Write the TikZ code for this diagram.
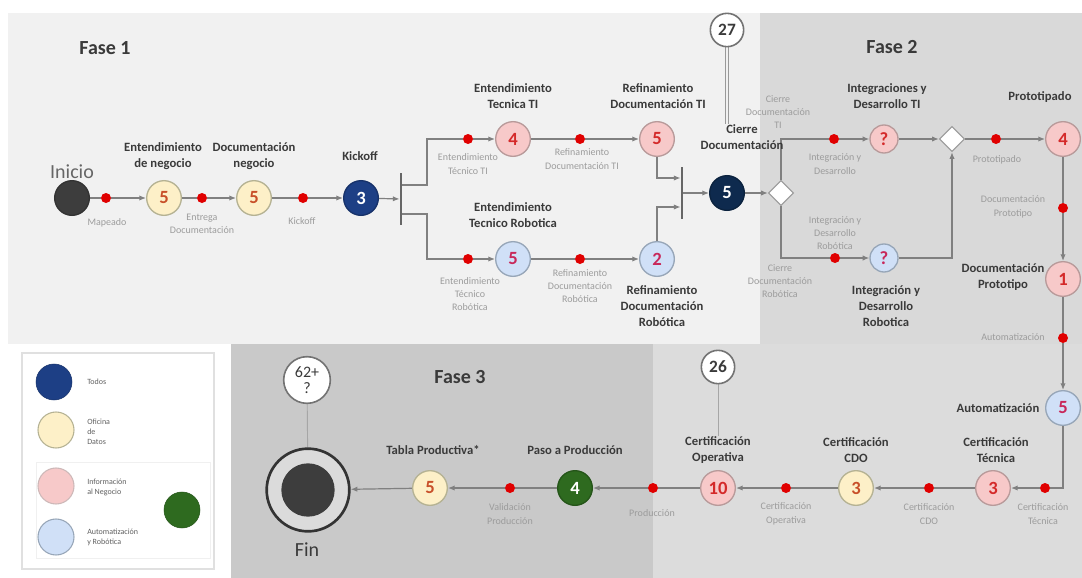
\documentclass[tikz,border=0pt]{standalone}
\usepackage{fontspec}
\setmainfont{Carlito}
\usetikzlibrary{arrows.meta,shapes.geometric,calc}
\definecolor{fOne}{HTML}{F1F1F1}
\definecolor{fTwo}{HTML}{D9D9D9}
\definecolor{fTwoB}{HTML}{DCDCDC}
\definecolor{fThree}{HTML}{C9C9C9}
\definecolor{lineg}{HTML}{808080}
\definecolor{dotred}{HTML}{E00000}
\definecolor{yelF}{HTML}{FDF0C8}
\definecolor{yelD}{HTML}{B5B293}
\definecolor{yelT}{HTML}{C8502A}
\definecolor{pnkF}{HTML}{F7C9C9}
\definecolor{pnkD}{HTML}{B89A9A}
\definecolor{pnkT}{HTML}{D42A2A}
\definecolor{bluF}{HTML}{D0E0F7}
\definecolor{bluD}{HTML}{97A6B8}
\definecolor{bluT}{HTML}{C8285A}
\definecolor{todosF}{HTML}{1D3F85}
\definecolor{navyF}{HTML}{0E2A4E}
\definecolor{grnF}{HTML}{2E6A1F}
\definecolor{lblT}{HTML}{3A3A3A}
\definecolor{subT}{HTML}{9C9C9C}
\pgfdeclarelayer{bg}
\pgfdeclarelayer{edges}
\pgfsetlayers{bg,edges,main}
\tikzset{
  stage/.style={circle, minimum size=26pt, inner sep=0pt, line width=1pt,
    font=\bfseries\fontsize{14}{14}\selectfont},
  smallstage/.style={stage, minimum size=21pt},
  yel/.style={draw=yelD, fill=yelF, text=yelT},
  pnk/.style={draw=pnkD, fill=pnkF, text=pnkT},
  blu/.style={draw=bluD, fill=bluF, text=bluT},
  todos/.style={draw=todosF!80!black, fill=todosF, text=white},
  navy/.style={draw=navyF!80!black, fill=navyF, text=white},
  grn/.style={draw=grnF!80!black, fill=grnF, text=white},
  dot/.style={circle, fill=dotred, minimum size=7.5pt, inner sep=0pt},
  lbl/.style={font=\bfseries\fontsize{9.5}{12}\selectfont, text=lblT, align=center, inner sep=0pt},
  sub/.style={font=\fontsize{7.5}{10}\selectfont, text=subT, align=center, inner sep=0pt},
  fase/.style={font=\bfseries\fontsize{15}{15}\selectfont, text=lblT},
  conn/.style={draw=lineg, line width=0.9pt},
  arr/.style={conn, -{Latex[length=5pt,width=4pt]}},
  barnode/.style={rectangle, fill=lineg!80!black, minimum width=1.8pt, minimum height=39pt, inner sep=0pt},
  gate/.style={diamond, draw=lineg!80, fill=white, line width=0.8pt, minimum width=19pt, minimum height=19pt, inner sep=0pt},
  total/.style={circle, draw=lineg!90!black, fill=white, line width=1.2pt, inner sep=0pt, text=lblT},
  legtxt/.style={font=\fontsize{6}{7.5}\selectfont, text=lblT!80, align=left, anchor=west, inner sep=0pt}
}
\begin{document}
\begin{tikzpicture}[x=0.75pt,y=-0.75pt]
\useasboundingbox (0,0) rectangle (1082,578);
\begin{pgfonlayer}{bg}
  \fill[white] (0,0) rectangle (1082,578);
  \fill[fOne] (8,13) rectangle (760,344);
  \fill[fTwo] (760,13) rectangle (1082,344);
  \fill[fTwoB] (653,344) rectangle (1082,578);
  \fill[fThree] (231,344) rectangle (653,578);
  \fill[white] (22,353) rectangle (214,569);
  \draw[black!12, line width=0.8pt] (22,353) rectangle (214,569);
  \draw[black!6, line width=0.6pt] (36,462) rectangle (210,558);
\end{pgfonlayer}

% phase titles
\node[fase] (f1) at (105,48) {Fase 1};
\node[fase] (f2) at (892,47) {Fase 2};
\node[fase] (f3) at (460,377) {Fase 3};

% ----- row 1
\node[stage, fill=black!76, draw=black!80] (ini) at (72,198) {};
\node[font=\fontsize{15}{15}\selectfont, text=black!60, inner sep=0pt] (tini) at (72,172) {Inicio};
\node[dot] (d1) at (106,198) {};
\node[sub] (s1) at (107,223) {Mapeado};
\node[stage, yel] (e1) at (164,198) {5};
\node[lbl] (l1) at (163,156) {Entendimiento\\de negocio};
\node[dot] (d2) at (202,198) {};
\node[sub] (s2) at (202,224) {Entrega\\Documentación};
\node[stage, yel] (e2) at (254,198) {5};
\node[lbl] (l2) at (254,156) {Documentación\\negocio};
\node[dot] (d3) at (303,198) {};
\node[sub] (s3) at (302,221) {Kickoff};
\node[stage, todos] (k3) at (361,198) {3};
\node[lbl] (l3) at (360,156) {Kickoff};
\node[barnode] (b1) at (401,199) {};

% upper TI branch
\coordinate (u1) at (427,139);
\node[dot] (d4) at (468,139) {};
\node[sub] (s4) at (468,164) {Entendimiento\\Técnico TI};
\node[stage, pnk] (t4) at (513,139) {4};
\node[lbl] (l4) at (513,96) {Entendimiento\\Tecnica TI};
\node[dot] (d5) at (580,139) {};
\node[sub] (s5) at (582,159) {Refinamiento\\Documentación TI};
\node[stage, pnk] (r5) at (657,139) {5};
\node[lbl] (l5) at (658,96) {Refinamiento\\Documentación TI};

% lower robotics branch
\coordinate (l1c) at (427,259);
\node[dot] (d4b) at (468,259) {};
\node[sub] (s4b) at (470,294) {Entendimiento\\Técnico\\Robótica};
\node[stage, blu] (t5) at (513,259) {5};
\node[lbl] (l4b) at (513,215) {Entendimiento\\Tecnico Robotica};
\node[dot] (d5b) at (580,259) {};
\node[sub] (s5b) at (580,286) {Refinamiento\\Documentación\\Robótica};
\node[stage, blu] (r2) at (657,259) {2};
\node[lbl] (l5b) at (662,306) {Refinamiento\\Documentación\\Robótica};

% join and closure
\node[barnode] (b2) at (682,193) {};
\node[stage, navy] (cz) at (727,193) {5};
\node[lbl] (lcz) at (742,137) {Cierre\\Documentación};
\node[total, minimum size=25pt, font=\bfseries\fontsize{13}{13}\selectfont] (n27) at (727,30) {27};
\coordinate (c27) at (727,124);
\node[gate] (dm1) at (781,193) {};

% Fase 2 upper
\node[sub] (s6a) at (778,112) {Cierre\\Documentación\\TI};
\node[dot] (d6) at (834,139) {};
\node[sub] (s6) at (835,164) {Integración y\\Desarrollo};
\node[smallstage, pnk] (q1) at (884,139) {?};
\node[lbl] (lq1) at (887,96) {Integraciones y\\Desarrollo TI};
\node[gate] (dm2) at (952,139) {};
\node[dot] (d7) at (996,139) {};
\node[sub] (s7) at (997,160) {Prototipado};
\node[stage, pnk] (p4) at (1063,139) {4};
\node[lbl] (lp4) at (1040,97) {Prototipado};

% Fase 2 lower
\node[sub] (s8a) at (780,281) {Cierre\\Documentación\\Robótica};
\node[dot] (d15) at (835,258) {};
\node[sub] (s15) at (835,233) {Integración y\\Desarrollo\\Robótica};
\node[smallstage, blu] (q2) at (884,258) {?};
\node[lbl] (lq2) at (886,306) {Integración y\\Desarrollo\\Robotica};

% right column
\node[dot] (d8) at (1063,208) {};
\node[sub] (s8) at (1013,207) {Documentación\\Prototipo};
\node[stage, pnk] (p1) at (1063,279) {1};
\node[lbl] (lp1) at (1003,277) {Documentación\\Prototipo};
\node[dot] (d9) at (1063,338) {};
\node[sub] (s9) at (1013,337) {Automatización};
\node[stage, blu] (a5) at (1063,408) {5};
\node[lbl] (la5) at (998,408) {Automatización};

% bottom row
\node[dot] (d10) at (1045,488) {};
\node[sub] (s10) at (1043,514) {Certificación\\Técnica};
\node[stage, pnk] (ct) at (993,488) {3};
\node[lbl] (lct) at (996,450) {Certificación\\Técnica};
\node[dot] (d11) at (929,488) {};
\node[sub] (s11) at (929,514) {Certificación\\CDO};
\node[stage, yel] (cc) at (856,488) {3};
\node[lbl] (lcc) at (856,450) {Certificación\\CDO};
\node[dot] (d12) at (786,488) {};
\node[sub] (s12) at (786,514) {Certificación\\Operativa};
\node[stage, pnk] (co) at (718,488) {10};
\node[lbl] (lco) at (718,450) {Certificación\\Operativa};
\node[total, minimum size=25pt, font=\bfseries\fontsize{13}{13}\selectfont] (n26) at (718,367) {26};
\node[dot] (d13) at (653,488) {};
\node[sub] (s13) at (652,513) {Producción};
\node[stage, grn] (pp) at (575,488) {4};
\node[lbl] (lpp) at (575,450) {Paso a Producción};
\node[dot] (d14) at (510,488) {};
\node[sub] (s14) at (510,514) {Validación\\Producción};
\node[stage, yel] (tp) at (430,488) {5};
\node[lbl] (ltp) at (433,450) {Tabla Productiva*};
\node[circle, draw=black!80, line width=2pt, fill=black!14, minimum size=62pt, inner sep=0pt] (fin) at (308,490) {};
\node[circle, fill=black!76, minimum size=40pt, inner sep=0pt] (finin) at (308,490) {};
\node[font=\fontsize{15}{15}\selectfont, text=lblT, inner sep=0pt] (tfin) at (307,550) {Fin};
\node[total, minimum size=35pt, align=center, font=\fontsize{12}{12}\selectfont] (n62) at (307,380) {62+\\?};

% legend
\node[circle, fill=todosF, draw=todosF!80!black, minimum size=27pt, inner sep=0pt] (g1) at (54,382) {};
\node[legtxt] (gt1) at (87,382) {Todos};
\node[circle, fill=yelF, draw=yelD, line width=0.8pt, minimum size=27pt, inner sep=0pt] (g2) at (56,430) {};
\node[legtxt] (gt2) at (87,432) {Oficina\\de\\Datos};
\node[circle, fill=pnkF, draw=pnkD!70, line width=0.8pt, minimum size=27pt, inner sep=0pt] (g3) at (56,486) {};
\node[legtxt] (gt3) at (87,487) {Información\\al Negocio};
\node[circle, fill=bluF, draw=bluD, line width=0.8pt, minimum size=27pt, inner sep=0pt] (g4) at (56,537) {};
\node[legtxt] (gt4) at (87,537) {Automatización\\y Robótica};
\node[circle, fill=grnF, draw=grnF!80!black, minimum size=27pt, inner sep=0pt] (g5) at (182,510) {};

% ----- connectors
\begin{pgfonlayer}{edges}
  \draw[conn] (ini) -- (d1);
  \draw[arr] (d1) -- (e1);
  \draw[conn] (e1) -- (d2);
  \draw[arr] (d2) -- (e2);
  \draw[conn] (e2) -- (d3);
  \draw[arr] (d3) -- (k3);
  \draw[arr] (k3) -- (b1);
  \draw[conn] ([yshift=10.5pt]b1.east) -| (u1) -- (d4);
  \draw[arr] (d4) -- (t4);
  \draw[conn] (t4) -- (d5);
  \draw[arr] (d5) -- (r5);
  \draw[conn] ([yshift=-11.25pt]b1.east) -| (l1c) -- (d4b);
  \draw[arr] (d4b) -- (t5);
  \draw[conn] (t5) -- (d5b);
  \draw[arr] (d5b) -- (r2);
  \draw[arr] (r5) |- ([yshift=11.25pt]b2.west);
  \draw[arr] (r2) |- ([yshift=-10.5pt]b2.west);
  \draw[arr] (b2) -- (cz);
  \draw[arr] (cz) -- (dm1);
  \draw[draw=black!40, line width=0.7pt, double=fOne, double distance=2.2pt] (n27.south) -- (c27);
  \draw[conn] (dm1.north) |- (d6);
  \draw[arr] (d6) -- (q1);
  \draw[arr] (q1) -- (dm2);
  \draw[conn] (dm2) -- (d7);
  \draw[arr] (d7) -- (p4);
  \draw[conn] (dm1.south) |- (d15);
  \draw[arr] (d15) -- (q2);
  \draw[arr] (q2) -| (dm2.south);
  \draw[conn] (p4) -- (d8);
  \draw[arr] (d8) -- (p1);
  \draw[conn] (p1) -- (d9);
  \draw[arr] (d9) -- (a5);
  \draw[conn] (a5) |- (d10);
  \draw[arr] (d10) -- (ct);
  \draw[conn] (ct) -- (d11);
  \draw[arr] (d11) -- (cc);
  \draw[conn] (cc) -- (d12);
  \draw[arr] (d12) -- (co);
  \draw[conn] (co) -- (d13);
  \draw[arr] (d13) -- (pp);
  \draw[conn] (pp) -- (d14);
  \draw[arr] (d14) -- (tp);
  \draw[arr] (tp) -- (fin);
  \draw[draw=black!35, line width=0.7pt] (n26) -- (lco.north);
  \draw[draw=black!35, line width=0.7pt] (n62) -- (fin);
\end{pgfonlayer}
\end{tikzpicture}
\end{document}
